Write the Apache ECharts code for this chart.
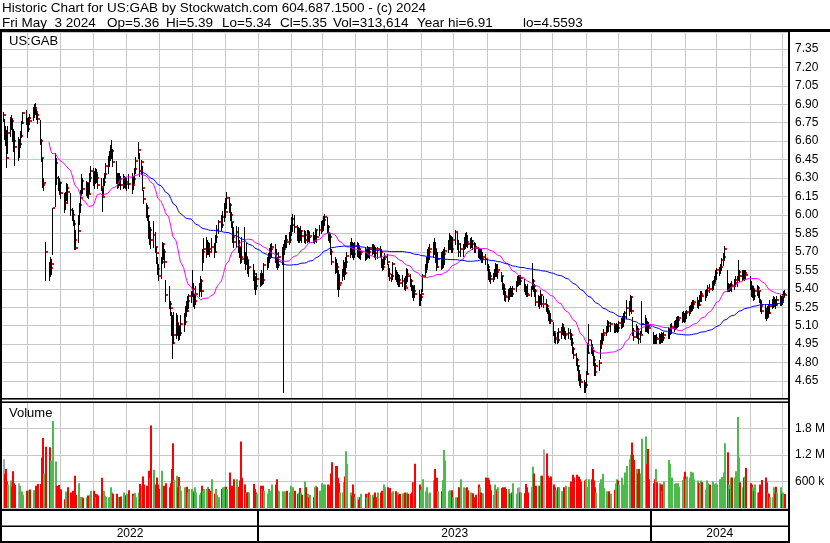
<!DOCTYPE html>
<html><head><meta charset="utf-8">
<script src="https://cdn.jsdelivr.net/npm/echarts@6/dist/echarts.min.js"></script>
<style>html,body{margin:0;padding:0;background:#fff}#c{width:830px;height:543px}</style>
</head><body><div id="c"></div>
<script>
// ---------- data ----------
const titleLine1 = 'Historic Chart for US:GAB by Stockwatch.com 604.687.1500 - (c) 2024';
const titleLine2 = ['Fri May  3 2024', 'Op=5.36', 'Hi=5.39', 'Lo=5.34', 'Cl=5.35', 'Vol=313,614', 'Year hi=6.91', 'lo=4.5593'];
const symbolLabel = 'US:GAB';
const yearLabels = ['2022', '2023', '2024'];
const holidays = ['2022-05-30','2022-06-20','2022-07-04','2022-09-05','2022-11-24','2022-12-26',
  '2023-01-02','2023-01-16','2023-02-20','2023-04-07','2023-05-29','2023-06-19','2023-07-04','2023-09-04',
  '2023-11-23','2023-12-25','2024-01-01','2024-01-15','2024-02-19','2024-03-29'];
const priceTicks = {min: 4.5, max: 7.4875, step: 0.15};
const volTicks = {min: 0, max: 2400000, step: 600000};

const hi2022 = [
6.84,6.78,6.72,6.69,6.72, 6.80,6.81,6.78,6.70,6.68, 6.63,6.62,6.68,6.76,6.84, 6.85,6.79,6.80,6.82,
6.88,6.90,6.91,6.86,6.83, 6.77,6.62,6.46,6.30,5.78, 5.62,5.66,5.64,6.06, 6.50,6.46,6.32,6.30,6.27,
6.18,6.19,6.26,6.25, 6.18,6.06,6.04,5.96,5.88, 6.00,6.10,6.20,6.33,6.30, 6.28,6.27,6.26,6.34,6.40,
6.38,6.36,6.38,6.37,6.33, 6.30,6.22,6.30,6.34,6.42, 6.48,6.52,6.57,6.61,6.54, 6.44,6.34,6.34,6.34,6.32,
6.33,6.32,6.31,6.30,6.33, 6.34,6.32,6.38,6.47, 6.59,6.50,6.45,6.40,6.20, 6.10,6.08,6.00,5.95,5.90,
5.95,5.86,5.74,5.66,5.60, 5.66,5.78,5.77,5.72,5.47, 5.42,5.30,5.21,5.19,5.21, 5.20,5.19,5.12,5.10,5.19,
5.20,5.26,5.30,5.34,5.36, 5.38,5.55,5.45,5.36,5.42, 5.45,5.50,5.48,5.72,5.81, 5.82,5.80,5.78,5.77,5.81,
5.77,5.84,5.92,5.96, 6.00,6.03,6.10,6.14,6.19, 6.15,6.10,6.02,5.94,5.90, 5.91,5.90,5.80,5.74,5.82,
5.90,5.70,5.77,5.66,5.63, 5.60,5.55,5.50,5.53];
const lo2022 = [
6.76,6.62,6.57,6.39,6.50, 6.64,6.70,6.60,6.52,6.41, 6.45,6.47,6.55,6.63,6.75, 6.74,6.63,6.68,6.74,
6.77,6.80,6.82,6.78,6.75, 6.58,6.44,6.23,6.20,5.47, 5.47,5.50,5.52,5.68, 6.07,6.25,6.20,6.17,6.14,
6.02,6.05,6.12,6.10, 6.00,5.96,5.92,5.72,5.72, 5.78,5.93,6.02,6.16,6.18, 6.16,6.15,6.14,6.18,6.28,
6.24,6.22,6.26,6.27,6.22, 6.20,6.03,6.16,6.24,6.30, 6.34,6.40,6.45,6.46,6.40, 6.26,6.22,6.23,6.24,6.21,
6.22,6.23,6.22,6.20,6.22, 6.18,6.21,6.26,6.34, 6.46,6.32,6.33,6.20,6.10, 5.98,5.96,5.81,5.76,5.73,
5.74,5.70,5.61,5.52,5.47, 5.49,5.61,5.64,5.58,5.30, 5.24,5.19,5.02,4.84,4.96, 5.00,5.02,4.98,4.99,5.02,
5.06,5.11,5.18,5.22,5.24, 5.29,5.34,5.26,5.24,5.28, 5.34,5.38,5.34,5.55,5.62, 5.66,5.68,5.68,5.67,5.70,
5.66,5.70,5.78,5.85, 5.88,5.90,5.95,5.98,6.06, 6.02,5.96,5.90,5.78,5.74, 5.74,5.70,5.66,5.61,5.62,
5.61,5.56,5.60,5.53,5.50, 5.47,5.40,5.36,5.40];
const cl2022 = [
6.81,6.66,6.60,6.46,6.67, 6.78,6.76,6.62,6.60,6.55, 6.55,6.58,6.64,6.75,6.83, 6.77,6.70,6.79,6.76,
6.85,6.87,6.84,6.81,6.78, 6.60,6.46,6.24,6.26,5.70, 5.54,5.57,5.60,6.06, 6.42,6.30,6.27,6.26,6.18,
6.10,6.15,6.22,6.19, 6.04,6.00,5.93,5.80,5.73, 5.87,6.08,6.14,6.28,6.21, 6.26,6.21,6.17,6.30,6.36,
6.31,6.27,6.34,6.30,6.24, 6.23,6.15,6.27,6.33,6.40, 6.45,6.47,6.50,6.52,6.43, 6.30,6.28,6.31,6.29,6.24,
6.27,6.29,6.25,6.27,6.25, 6.24,6.29,6.37,6.44, 6.53,6.36,6.43,6.22,6.13, 6.06,5.99,5.85,5.88,5.80,
5.84,5.74,5.69,5.56,5.50, 5.62,5.76,5.70,5.62,5.35, 5.28,5.24,5.08,4.96,5.02, 5.12,5.10,5.02,5.04,5.11,
5.13,5.24,5.22,5.30,5.34, 5.35,5.40,5.28,5.30,5.36, 5.40,5.46,5.38,5.70,5.72, 5.73,5.76,5.72,5.70,5.74,
5.70,5.82,5.88,5.94, 5.92,5.98,6.06,6.02,6.14, 6.08,6.00,5.94,5.82,5.78, 5.86,5.74,5.70,5.66,5.64,
5.63,5.66,5.63,5.57,5.58, 5.52,5.44,5.42,5.48];
const vol2022 = [
1100,770,880,600,530, 620,480,830,560,520, 560,500,350,380,300, 390,320,400,420,
400,390,500,430,540, 540,1140,1580,780,1380, 1370,1070,780,1960, 1050,500,520,430,420,
200,375,240,470, 350,390,320,730,300, 560,240,250,240,230, 240,280,260,300,390,
390,320,250,310,280, 680,320,390,280,250, 240,250,470,350,320, 320,240,250,240,260,
350,240,290,320,400, 320,280,330,240, 350,540,500,710,530, 500,430,840,680,1860,
860,530,690,530,430, 840,320,500,470,560, 470,560,880,1460,640, 730,470,700,500,390,
470,370,480,350,430, 430,390,350,470,350, 300,350,500,390,430, 430,480,430,390,650,
320,430,300,240, 430,470,480,480,430, 800,470,500,450,650, 650,480,620,1500,680,
530,350,350,350,350, 540,430,350,320];

const hi2023 = [
5.53,5.55,5.53,5.61, 5.66,5.69,5.73,5.76,5.77, 5.76,5.72,5.66,5.70, 5.74,5.76,5.80,5.84,5.84,
5.86,5.92,5.98,6.01,6.00, 5.92,5.90,5.89,5.91,5.88, 5.88,5.87,5.88,5.88,5.86, 5.86,5.84,5.89,5.88,
5.92,5.95,5.96,5.99,6.01, 5.98,5.92,5.86,5.85,5.72, 5.66,5.64,5.61,5.55,5.52, 5.56,5.63,5.62,5.66,5.70,
5.78,5.81,5.78,5.77,5.78, 5.78,5.77,5.74,5.72, 5.74,5.72,5.75,5.74,5.74, 5.76,5.76,5.75,5.74,5.74,
5.75,5.72,5.64,5.66,5.69, 5.68,5.60,5.57,5.52,5.62, 5.58,5.55,5.54,5.52,5.51, 5.51,5.49,5.50,5.57,5.56,
5.52,5.48,5.43,5.42,5.43, 5.39,5.36,5.40,5.52, 5.60,5.66,5.72,5.74,5.76, 5.78,5.81,5.78,5.72,5.70,
5.70,5.71,5.72,5.74, 5.80,5.85,5.84,5.83,5.82, 5.88,5.86,5.80,5.77, 5.76,5.82,5.85,5.86,5.84,
5.81,5.82,5.80,5.78,5.77, 5.74,5.73,5.72,5.72,5.70, 5.68,5.64,5.60,5.56,5.54, 5.53,5.56,5.61,5.60,5.60,
5.54,5.50,5.45,5.43,5.38, 5.40,5.41,5.42,5.41,5.42, 5.46,5.50,5.51,5.51,5.51, 5.48,5.44,5.42,5.44,
5.42,5.61,5.48,5.44,5.40, 5.35,5.34,5.39,5.36,5.34, 5.32,5.28,5.24,5.22,5.20, 5.13,5.06,5.04,5.05,5.08,
5.09,5.12,5.11,5.08,5.06, 5.08,5.07,5.04,5.00,4.93, 4.88,4.84,4.78,4.74,4.70, 4.66,4.64,4.73,4.96,5.11,
4.98,4.95,4.90,4.85,4.80, 4.82,4.98,5.04,5.04,5.07, 5.10,5.15,5.14,5.13, 5.12,5.11,5.12,5.11,5.14,
5.16,5.18,5.20,5.22,5.31, 5.30,5.35,5.34,5.17,5.08, 5.11,5.10,5.08,5.06,5.30, 5.19,5.16,5.14,5.13];
const lo2023 = [
5.42,5.43,5.44,5.45, 5.56,5.58,5.62,5.65,5.66, 5.62,5.58,5.56,5.58, 5.60,4.5593,5.68,5.74,5.74,
5.76,5.78,5.84,5.87,5.86, 5.80,5.78,5.78,5.80,5.78, 5.78,5.77,5.78,5.79,5.78, 5.78,5.77,5.79,5.78,
5.84,5.85,5.87,5.88,5.92, 5.86,5.80,5.78,5.68,5.60, 5.53,5.54,5.40,5.34,5.40, 5.47,5.50,5.48,5.52,5.58,
5.66,5.68,5.66,5.64,5.66, 5.67,5.66,5.65,5.64, 5.63,5.64,5.66,5.66,5.65, 5.68,5.69,5.66,5.64,5.65,
5.66,5.58,5.55,5.56,5.60, 5.60,5.50,5.47,5.46,5.48, 5.48,5.46,5.44,5.42,5.42, 5.42,5.40,5.39,5.45,5.46,
5.42,5.39,5.33,5.31,5.33, 5.27,5.27,5.31,5.38, 5.50,5.54,5.58,5.62,5.64, 5.66,5.68,5.62,5.55,5.58,
5.56,5.57,5.58,5.60, 5.70,5.72,5.72,5.70,5.70, 5.76,5.72,5.67,5.67, 5.67,5.72,5.73,5.75,5.74,
5.73,5.74,5.72,5.70,5.70, 5.66,5.65,5.64,5.62,5.62, 5.60,5.55,5.48,5.46,5.45, 5.46,5.48,5.50,5.50,5.49,
5.46,5.40,5.36,5.31,5.30, 5.30,5.32,5.34,5.34,5.34, 5.38,5.42,5.43,5.44,5.44, 5.38,5.36,5.34,5.34,
5.34,5.40,5.38,5.34,5.27, 5.26,5.24,5.28,5.26,5.25, 5.22,5.20,5.15,5.12,5.12, 5.02,4.97,4.96,4.96,4.97,
5.00,5.03,5.02,5.00,4.99, 5.00,4.99,4.94,4.88,4.84, 4.78,4.74,4.66,4.62,4.60, 4.56,4.56,4.60,4.71,4.88,
4.88,4.86,4.78,4.70,4.70, 4.74,4.84,4.92,4.96,4.98, 5.02,5.05,5.06,5.06, 5.05,5.05,5.06,5.05,5.06,
5.08,5.09,5.10,5.13,5.16, 5.19,5.22,5.20,5.02,4.98, 5.01,5.00,4.96,4.97,5.04, 5.06,5.06,5.05,5.04];
const cl2023 = [
5.46,5.51,5.47,5.59, 5.62,5.66,5.70,5.72,5.74, 5.68,5.60,5.59,5.66, 5.70,5.72,5.76,5.80,5.78,
5.80,5.88,5.92,5.97,5.90, 5.84,5.86,5.82,5.87,5.83, 5.84,5.80,5.86,5.82,5.83, 5.80,5.81,5.88,5.82,
5.88,5.90,5.92,5.96,5.98, 5.90,5.84,5.82,5.70,5.62, 5.60,5.58,5.46,5.43,5.45, 5.52,5.58,5.53,5.62,5.67,
5.74,5.72,5.70,5.68,5.75, 5.75,5.72,5.68,5.70, 5.65,5.70,5.72,5.70,5.73, 5.75,5.73,5.72,5.69,5.72,
5.70,5.60,5.58,5.64,5.66, 5.62,5.52,5.49,5.50,5.60, 5.52,5.49,5.50,5.47,5.45, 5.46,5.42,5.41,5.52,5.50,
5.46,5.42,5.36,5.38,5.36, 5.32,5.33,5.36,5.50, 5.56,5.62,5.70,5.70,5.72, 5.74,5.72,5.66,5.58,5.64,
5.60,5.62,5.68,5.71, 5.76,5.78,5.80,5.72,5.80, 5.86,5.76,5.70,5.72, 5.73,5.80,5.82,5.78,5.76,
5.78,5.79,5.76,5.74,5.73, 5.69,5.70,5.66,5.64,5.66, 5.64,5.58,5.52,5.50,5.48, 5.50,5.52,5.56,5.54,5.55,
5.50,5.43,5.40,5.34,5.33, 5.36,5.34,5.40,5.36,5.40, 5.44,5.48,5.48,5.46,5.49, 5.40,5.38,5.36,5.35,
5.40,5.46,5.42,5.38,5.29, 5.30,5.28,5.35,5.28,5.28, 5.26,5.22,5.18,5.15,5.14, 5.05,4.99,5.00,4.98,5.05,
5.06,5.08,5.05,5.02,5.03, 5.04,5.02,4.96,4.91,4.86, 4.82,4.77,4.70,4.66,4.64, 4.60,4.62,4.71,4.88,4.98,
4.92,4.89,4.82,4.72,4.77, 4.80,4.95,4.98,5.02,5.04, 5.08,5.12,5.10,5.11, 5.08,5.09,5.10,5.08,5.12,
5.14,5.15,5.17,5.20,5.24, 5.26,5.33,5.22,5.06,5.01, 5.05,5.03,4.99,5.02,5.11, 5.12,5.11,5.10,5.08];
const vol2023 = [
500,430,500,390, 320,430,390,240,530, 530,650,390,380, 380,320,380,240,390,
350,500,350,470,390, 320,350,450,350,300, 600,470,320,240,300, 240,470,500,470,
390,560,530,480,530, 530,500,500,780,1030, 950,950,680,560,350, 350,580,710,1280,990,
350,280,530,320,240, 240,180,240,320, 320,240,320,350,300, 300,240,350,240,350,
350,390,350,530,470, 470,350,450,350,380, 380,320,350,300,320, 330,350,320,350,320,
320,350,580,580,1000, 530,410,480,650, 380,470,320,320,350, 630,880,680,680,380,
380,630,1310,1070, 380,400,250,400,240, 240,240,470,650, 470,450,320,470,400,
350,320,330,240,300, 530,470,350,320,330, 690,680,630,530,400, 300,530,430,390,470,
450,470,450,470,430, 430,320,320,350,560, 320,450,470,350,350, 330,540,470,350,
480,930,780,480,500, 500,500,730,730,1320, 1230,730,680,470,710, 530,470,400,470,470,
380,380,470,380,500, 480,600,470,750,690, 750,680,710,650,600, 620,650,430,480,650,
650,880,620,470,350, 560,650,430,770,450, 380,200,380,320, 410,560,650,620,530,
680,530,500,800,950, 1100,1200,1480,1200,1080, 880,780,880,780,1560, 1610,990,1330,650];

const hi2024 = [
5.05,5.02,5.02,5.03, 5.04,5.03,5.05,5.04,5.05, 5.09,5.08,5.11,5.12, 5.14,5.15,5.17,5.18,5.18,
5.21,5.22,5.20,5.22,5.23, 5.26,5.27,5.29,5.31,5.31, 5.33,5.31,5.35,5.38,5.38, 5.39,5.40,5.43,5.44,
5.46,5.47,5.50,5.55,5.57, 5.58,5.60,5.65,5.69,5.75, 5.55,5.45,5.44,5.45,5.46, 5.48,5.50,5.50,5.63,5.55,
5.55,5.55,5.55,5.55, 5.50,5.46,5.42,5.42,5.40, 5.43,5.42,5.38,5.32,5.30, 5.28,5.24,5.26,5.28,5.31,
5.32,5.34,5.33,5.32,5.34, 5.35,5.34,5.36,5.38,5.39];
const lo2024 = [
4.96,4.96,4.96,4.96, 4.96,4.96,4.97,4.97,4.98, 5.00,5.00,5.03,5.04, 5.06,5.07,5.08,5.09,5.10,
5.13,5.14,5.13,5.14,5.16, 5.19,5.20,5.22,5.23,5.24, 5.25,5.24,5.27,5.30,5.30, 5.31,5.33,5.35,5.37,
5.39,5.40,5.44,5.46,5.48, 5.51,5.53,5.55,5.59,5.63, 5.38,5.38,5.38,5.39,5.38, 5.40,5.42,5.42,5.47,5.46,
5.47,5.48,5.47,5.48, 5.40,5.34,5.33,5.31,5.32, 5.35,5.33,5.29,5.22,5.20, 5.16,5.15,5.16,5.18,5.20,
5.24,5.25,5.26,5.24,5.27, 5.27,5.27,5.28,5.31,5.34];
const cl2024 = [
4.98,4.97,5.00,4.99, 5.01,4.99,5.01,5.00,5.02, 5.05,5.06,5.08,5.09, 5.10,5.12,5.14,5.15,5.16,
5.18,5.19,5.16,5.20,5.21, 5.22,5.25,5.27,5.28,5.29, 5.30,5.27,5.33,5.36,5.34, 5.35,5.38,5.41,5.40,
5.43,5.45,5.48,5.53,5.55, 5.56,5.58,5.63,5.66,5.72, 5.40,5.42,5.41,5.43,5.42, 5.45,5.47,5.48,5.54,5.50,
5.52,5.50,5.53,5.51, 5.42,5.37,5.40,5.34,5.38, 5.41,5.38,5.30,5.26,5.22, 5.18,5.17,5.22,5.20,5.26,
5.29,5.31,5.28,5.27,5.31, 5.32,5.29,5.33,5.36,5.35];
const vol2024 = [
560,650,880,580, 560,530,380,530,600, 1080,1000,540,690, 540,560,530,560,480,
630,710,820,650,710, 690,820,620,800,650, 620,560,530,620,580, 410,620,560,530,
600,530,530,560,530, 650,620,700,800,1460, 1260,530,430,690,690, 690,830,2050,1140,580,
470,690,710,900, 560,530,470,380,530, 350,350,530,410,630, 690,580,350,320,240,
240,470,320,480,350, 470,320,350,300,314];

// ---------- build ----------
const DAY = 86400000;
function tradingDays() {
  const out = [];
  const end = Date.UTC(2024, 4, 3);
  for (let t = Date.UTC(2022, 4, 9); t <= end; t += DAY) {
    const d = new Date(t), wd = d.getUTCDay(), s = d.toISOString().slice(0, 10);
    if (wd !== 0 && wd !== 6 && holidays.indexOf(s) < 0) out.push(t);
  }
  return out;
}
const dates = tradingDays();
const hi = hi2022.concat(hi2023, hi2024);
const lo = lo2022.concat(lo2023, lo2024);
const cl = cl2022.concat(cl2023, cl2024);
const vol = vol2022.concat(vol2023, vol2024).map(v => v * 1000);
if ([hi.length, lo.length, cl.length, vol.length].some(n => n !== dates.length)) {
  throw new Error('length mismatch ' + dates.length + ' ' + hi.length + ' ' + lo.length + ' ' + cl.length + ' ' + vol.length);
}

function sma(arr, n) {
  const out = [];
  let s = 0;
  for (let i = 0; i < arr.length; i++) {
    s += arr[i];
    if (i >= n) s -= arr[i - n];
    if (i >= n - 1) out.push([dates[i], +(s / n).toFixed(4)]);
  }
  return out;
}
const ma30 = sma(cl, 30);
const ma90 = sma(cl, 90);

const xMin = Date.UTC(2022, 4, 8, 12);
const xMax = Date.UTC(2024, 4, 6, 17);
const months = [];
for (let y = 2022, m = 5; y < 2024 || (y === 2024 && m <= 4); m++) {
  if (m > 11) { m = 0; y++; }
  months.push(Date.UTC(y, m, 1));
}
const yearSpans = [[xMin, Date.UTC(2023, 0, 1)], [Date.UTC(2023, 0, 1), Date.UTC(2024, 0, 1)], [Date.UTC(2024, 0, 1), xMax]];

const FONT = '"Liberation Sans", Arial, sans-serif';
const GRID_C = '#c8c8c8';

function gridLineSeries(gi, yv) {
  return {
    type: 'custom', xAxisIndex: gi, yAxisIndex: gi, z: 1, silent: true,
    data: months.map(t => [t, yv]), encode: {x: 0, y: 1},
    renderItem: (params, api) => {
      const cs = params.coordSys;
      const x = Math.round(api.coord([api.value(0), yv])[0]) + 0.5;
      return {type: 'line', shape: {x1: x, y1: cs.y, x2: x, y2: cs.y + cs.height}, style: {stroke: GRID_C, lineWidth: 1}};
    }
  };
}

const chart = echarts.init(document.getElementById('c'), null, {renderer: 'canvas'});
const hiddenX = gi => ({type: 'time', gridIndex: gi, min: xMin, max: xMax, axisLine: {show: false}, axisTick: {show: false}, axisLabel: {show: false}, splitLine: {show: false}});

// header line 2 field positions (layout only)
const line2X = [2, 107, 166, 222, 280, 333, 417, 523];
const headerFont = '13.5px ' + FONT;

const option = {
  animation: false,
  backgroundColor: '#fff',
  grid: [
    {left: 2, top: 32, width: 786, height: 367.45, outerBoundsMode: 'none', containLabel: false},
    {left: 2, top: 401.6, width: 786, height: 106.4, outerBoundsMode: 'none', containLabel: false},
    {left: 2, top: 511, width: 786, height: 30, outerBoundsMode: 'none', containLabel: false}
  ],
  xAxis: [hiddenX(0), hiddenX(1), hiddenX(2)],
  yAxis: [
    {type: 'value', gridIndex: 0, position: 'right', min: priceTicks.min, max: priceTicks.max, interval: priceTicks.step,
     axisLine: {show: false}, axisTick: {show: false},
     axisLabel: {showMinLabel: false, showMaxLabel: false, formatter: v => v.toFixed(2), color: '#000', fontFamily: FONT, fontSize: 12, margin: 7},
     splitLine: {show: true, lineStyle: {color: GRID_C, width: 1}}},
    {type: 'value', gridIndex: 1, position: 'right', min: volTicks.min, max: volTicks.max, interval: volTicks.step,
     axisLine: {show: false}, axisTick: {show: false},
     axisLabel: {showMinLabel: false, showMaxLabel: false, color: '#000', fontFamily: FONT, fontSize: 12, margin: 7,
       formatter: v => v < 1000000 ? Math.round(v / 1000) + ' k' : (v / 1000000).toFixed(1) + ' M'},
     splitLine: {show: true, lineStyle: {color: GRID_C, width: 1}}},
    {type: 'value', gridIndex: 2, min: 0, max: 1, show: false}
  ],
  series: [
    gridLineSeries(0, 5),
    gridLineSeries(1, 0),
    { // high-low bars with close tick
      type: 'custom', xAxisIndex: 0, yAxisIndex: 0, z: 3, silent: true, clip: true,
      data: dates.map((t, i) => [t, hi[i], lo[i], cl[i]]), encode: {x: 0, y: [1, 2, 3]},
      renderItem: (params, api) => {
        const t = api.value(0);
        const pH = api.coord([t, api.value(1)]), pL = api.coord([t, api.value(2)]), pC = api.coord([t, api.value(3)]);
        const xi = Math.round(pH[0]);
        return {type: 'group', children: [
          {type: 'line', shape: {x1: xi + 0.5, y1: Math.round(pH[1]), x2: xi + 0.5, y2: Math.round(pL[1]) + 1}, style: {stroke: '#000', lineWidth: 1}},
          {type: 'rect', shape: {x: xi + 1, y: Math.round(pC[1]) - 1, width: 2, height: 2}, style: {fill: '#ff0000'}}
        ]};
      }
    },
    {type: 'line', xAxisIndex: 0, yAxisIndex: 0, z: 5, silent: true, showSymbol: false, symbol: 'none', data: ma30,
     lineStyle: {color: '#ff00ff', width: 1}},
    {type: 'line', xAxisIndex: 0, yAxisIndex: 0, z: 5, silent: true, showSymbol: false, symbol: 'none', data: ma90,
     lineStyle: {color: '#0000ff', width: 1}},
    { // volume
      type: 'custom', xAxisIndex: 1, yAxisIndex: 1, z: 3, silent: true, clip: true,
      data: dates.map((t, i) => [t, vol[i], i === 0 ? 2 : (cl[i] > cl[i - 1] ? 1 : (cl[i] < cl[i - 1] ? 0 : 2))]),
      encode: {x: 0, y: 1},
      renderItem: (params, api) => {
        const t = api.value(0);
        const p = api.coord([t, api.value(1)]), b = api.coord([t, 0]);
        const c = ['#ff0000', '#4cbb4c', '#a8a8a8'][api.value(2)];
        return {type: 'rect', shape: {x: Math.round(p[0]), y: p[1], width: 2, height: b[1] - p[1]}, style: {fill: c}};
      }
    },
    { // year band
      type: 'custom', xAxisIndex: 2, yAxisIndex: 2, z: 3, silent: true,
      data: yearSpans.map((s, i) => [s[0], 0.5, s[1], i]), encode: {x: 0, y: 1},
      renderItem: (params, api) => {
        const cs = params.coordSys;
        const a = api.coord([api.value(0), 0.5])[0], b = api.coord([api.value(2), 0.5])[0];
        const i = api.value(3);
        const children = [{type: 'text', style: {text: yearLabels[i], x: (a + b) / 2, y: cs.y + 23, align: 'center', verticalAlign: 'middle',
          font: '12px ' + FONT, fill: '#000'}}];
        if (i > 0) children.push({type: 'rect', shape: {x: Math.round(a) - 1, y: cs.y, width: 2, height: cs.height}, style: {fill: '#000'}});
        return {type: 'group', children};
      }
    }
  ],
  graphic: [
    {type: 'text', x: 2, y: 8.5, z: 100, silent: true, style: {text: titleLine1, font: headerFont, fill: '#000', verticalAlign: 'middle'}}
  ].concat(titleLine2.map((s, i) => ({type: 'text', x: line2X[i], y: 23, z: 100, silent: true,
      style: {text: s, font: headerFont, fill: '#000', verticalAlign: 'middle'}})))
  .concat([
    {type: 'text', x: 9, y: 41.5, z: 100, silent: true, style: {text: symbolLabel, font: '13px ' + FONT, fill: '#000', verticalAlign: 'middle'}},
    {type: 'text', x: 9, y: 413.5, z: 100, silent: true, style: {text: 'Volume', font: '13px ' + FONT, fill: '#000', verticalAlign: 'middle'}},
    {type: 'rect', z: 100, silent: true, shape: {x: 0, y: 29, width: 830, height: 3}, style: {fill: '#000'}},
    {type: 'rect', z: 100, silent: true, shape: {x: 0, y: 29, width: 2, height: 514}, style: {fill: '#000'}},
    {type: 'rect', z: 100, silent: true, shape: {x: 788, y: 29, width: 2, height: 514}, style: {fill: '#000'}},
    {type: 'rect', z: 100, silent: true, shape: {x: 0, y: 398, width: 790, height: 1.5}, style: {fill: '#000'}},
    {type: 'rect', z: 100, silent: true, shape: {x: 0, y: 401.5, width: 790, height: 1.5}, style: {fill: '#000'}},
    {type: 'rect', z: 100, silent: true, shape: {x: 0, y: 509, width: 790, height: 2}, style: {fill: '#000'}},
    {type: 'rect', z: 100, silent: true, shape: {x: 0, y: 525.5, width: 790, height: 1.5}, style: {fill: '#000'}},
    {type: 'rect', z: 100, silent: true, shape: {x: 0, y: 541, width: 790, height: 2}, style: {fill: '#000'}}
  ])
};
chart.setOption(option);
</script>
</body></html>
